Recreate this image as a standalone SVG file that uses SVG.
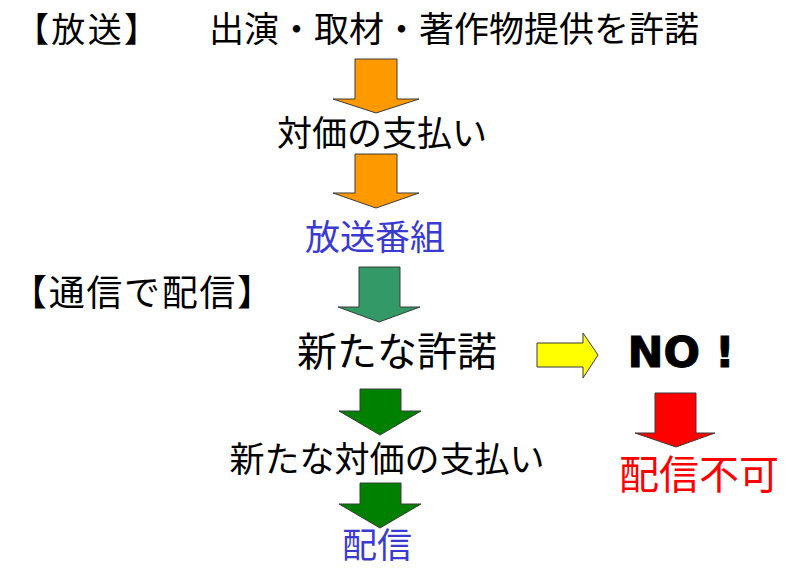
<svg xmlns="http://www.w3.org/2000/svg" width="800" height="568" viewBox="0 0 800 568">
<style>
text{font-family:"Noto Sans CJK JP","Noto Sans CJK SC",sans-serif;fill:#000}
text.no{font-family:"DejaVu Sans",sans-serif;font-weight:bold;stroke:#000;stroke-width:1}
.blue{fill:#3a3ad0}
.red{fill:#ff0000}
.arr{stroke:#3a3a3a;stroke-width:1;stroke-linejoin:miter}
.or{fill:#ff9900}
.teal{fill:#339966}
.gr{fill:#008000}
.ye{fill:#ffff00}
.rd{fill:#ff0000}
</style>
<rect width="800" height="568" fill="#fff"/>
<g id="label-housou"><text x="15" y="42" font-size="34" textLength="143" lengthAdjust="spacing">【放送】</text></g>
<g id="node-kyodaku"><text x="454" y="42" font-size="35" text-anchor="middle">出演・取材・著作物提供を許諾</text></g>
<g id="node-taika"><text x="382" y="146" font-size="35" text-anchor="middle">対価の支払い</text></g>
<g id="node-bangumi"><text x="375" y="250" font-size="35" text-anchor="middle" class="blue">放送番組</text></g>
<g id="label-tsushin"><text x="11" y="306" font-size="36" textLength="262" lengthAdjust="spacing">【通信で配信】</text></g>
<g id="node-shinkyodaku"><text x="397" y="366" font-size="40" text-anchor="middle">新たな許諾</text></g>
<g id="node-no"><text class="no" x="681" y="367" font-size="43" text-anchor="middle">NO !</text></g>
<g id="node-shintaika"><text x="387" y="472" font-size="35" text-anchor="middle">新たな対価の支払い</text></g>
<g id="node-fuka"><text x="699" y="489" font-size="40" text-anchor="middle" class="red">配信不可</text></g>
<g id="node-haishin"><text x="377" y="558" font-size="35" text-anchor="middle" class="blue">配信</text></g>
<g id="connectors">
<polygon class="arr or" points="355,59 397,59 397,99 419,99 376,113 333,99 355,99"/>
<polygon class="arr or" points="355,154 397,154 397,193 419,193 376,208 333,193 355,193"/>
<polygon class="arr teal" points="359,267 400,267 400,307 420,307 379,322 338,307 359,307"/>
<polygon class="arr gr" points="360,389 401,389 401,411 421,411 380,435 339,411 360,411"/>
<polygon class="arr gr" points="360,483 401,483 401,504 421,504 380,528 339,504 360,504"/>
<polygon class="arr ye" points="537,343 583,343 583,333 598,355 583,378 583,367 537,367"/>
<polygon class="arr rd" points="655,393 696,393 696,433 715,433 676,447 635,433 655,433"/>
</g>
</svg>
